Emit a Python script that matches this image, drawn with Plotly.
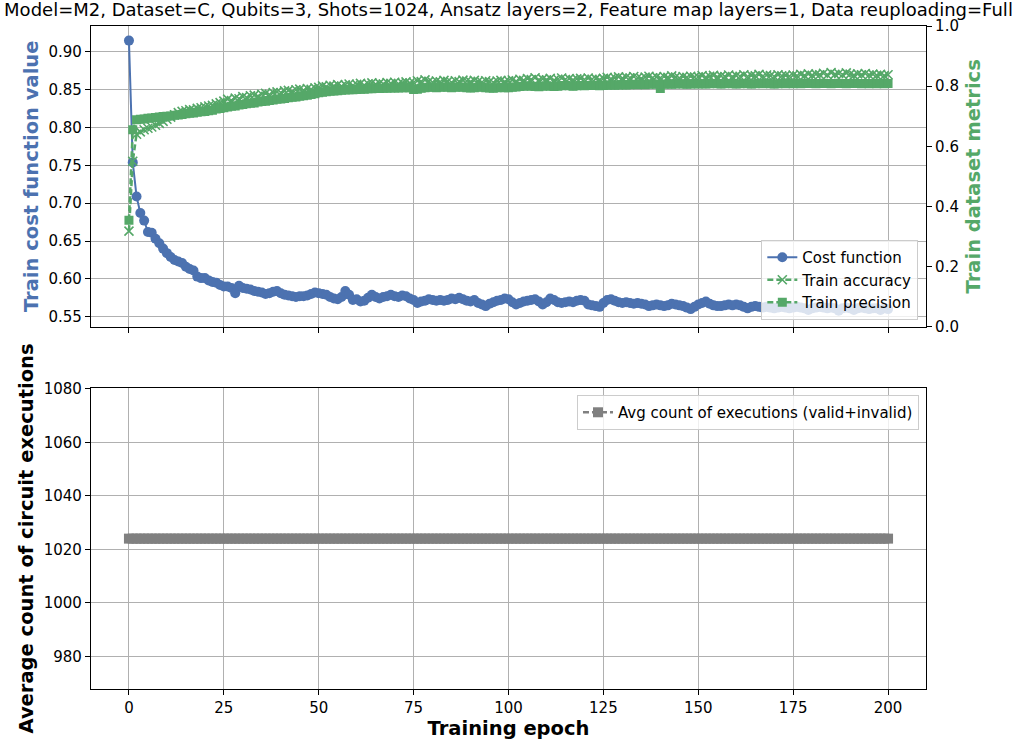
import plotly.graph_objects as go

epochs = list(range(201))

cost = [
    0.915, 0.754, 0.709, 0.687, 0.677, 0.662, 0.661, 0.653, 0.647, 0.640,
    0.634, 0.629, 0.625, 0.623, 0.621, 0.616, 0.613, 0.611, 0.603, 0.601,
    0.601, 0.598, 0.596, 0.595, 0.592,
    0.590, 0.590, 0.588, 0.581, 0.591, 0.588, 0.587, 0.586, 0.584, 0.583,
    0.582, 0.580, 0.581, 0.583, 0.584, 0.581, 0.579, 0.578, 0.577, 0.576,
    0.577, 0.577, 0.578, 0.580, 0.582,
    0.581, 0.580, 0.579, 0.576, 0.574, 0.573, 0.576, 0.584, 0.579, 0.572,
    0.573, 0.570, 0.571, 0.575, 0.579, 0.576, 0.574, 0.576, 0.577, 0.579,
    0.577, 0.576, 0.578, 0.577, 0.574,
    0.572, 0.568, 0.570, 0.571, 0.573, 0.572, 0.571, 0.572, 0.571, 0.572,
    0.574, 0.573, 0.575, 0.573, 0.571, 0.570, 0.572, 0.568, 0.566, 0.564,
    0.567, 0.569, 0.571, 0.572, 0.574,
    0.573, 0.569, 0.566, 0.568, 0.570, 0.571, 0.572, 0.573, 0.570, 0.566,
    0.569, 0.574, 0.572, 0.569, 0.568, 0.569, 0.570, 0.569, 0.571, 0.572,
    0.571, 0.566, 0.565, 0.564, 0.563,
    0.568, 0.572, 0.573, 0.571, 0.569, 0.568, 0.569, 0.568, 0.567, 0.568,
    0.567, 0.566, 0.564, 0.565, 0.566, 0.565, 0.564, 0.565, 0.567, 0.566,
    0.565, 0.564, 0.562, 0.560, 0.563,
    0.566, 0.568, 0.570, 0.567, 0.565, 0.564, 0.564, 0.565, 0.566, 0.565,
    0.566, 0.565, 0.563, 0.561, 0.563, 0.564, 0.563, 0.562, 0.563, 0.562,
    0.561, 0.562, 0.563, 0.562, 0.561,
    0.562, 0.563, 0.562, 0.561, 0.559, 0.561, 0.562, 0.563, 0.562, 0.561,
    0.562, 0.561, 0.558, 0.561, 0.562, 0.561, 0.559, 0.561, 0.562, 0.561,
    0.560, 0.561, 0.561, 0.559, 0.561, 0.560,
]

accuracy = [
    0.318, 0.550, 0.640, 0.648, 0.655, 0.660, 0.664, 0.670, 0.676, 0.683,
    0.690, 0.697, 0.705, 0.712, 0.716, 0.718, 0.722, 0.721, 0.726, 0.728,
    0.731, 0.734, 0.736, 0.741, 0.745,
    0.750, 0.757, 0.752, 0.760, 0.758, 0.765, 0.762, 0.768, 0.770, 0.766,
    0.773, 0.776, 0.772, 0.779, 0.781, 0.778, 0.784, 0.786, 0.782, 0.788,
    0.790, 0.786, 0.792, 0.789, 0.794,
    0.796, 0.801, 0.798, 0.803, 0.800, 0.805, 0.799, 0.804, 0.807, 0.802,
    0.806, 0.809, 0.803, 0.808, 0.811, 0.806, 0.810, 0.807, 0.812, 0.809,
    0.813, 0.808, 0.811, 0.814, 0.810,
    0.812, 0.818, 0.815, 0.821, 0.816, 0.813, 0.817, 0.814, 0.819, 0.816,
    0.812, 0.818, 0.815, 0.820, 0.817, 0.814, 0.819, 0.816, 0.813, 0.818,
    0.815, 0.812, 0.817, 0.819, 0.814,
    0.818, 0.821, 0.816, 0.823, 0.819, 0.825, 0.822, 0.828, 0.820, 0.824,
    0.821, 0.826, 0.819, 0.823, 0.827, 0.822, 0.825, 0.820, 0.824, 0.826,
    0.822, 0.827, 0.823, 0.825, 0.821,
    0.826, 0.829, 0.824, 0.828, 0.831, 0.826, 0.830, 0.827, 0.832, 0.828,
    0.825, 0.830, 0.833, 0.828, 0.831, 0.827, 0.832, 0.829, 0.834, 0.830,
    0.827, 0.832, 0.829, 0.833, 0.830,
    0.831, 0.835, 0.829, 0.833, 0.836, 0.830, 0.834, 0.832, 0.837, 0.831,
    0.835, 0.833, 0.838, 0.832, 0.836, 0.834, 0.839, 0.833, 0.837, 0.835,
    0.832, 0.838, 0.834, 0.836, 0.833,
    0.837, 0.834, 0.839, 0.835, 0.841, 0.836, 0.840, 0.838, 0.843, 0.837,
    0.845, 0.839, 0.842, 0.838, 0.844, 0.840, 0.836, 0.841, 0.838, 0.842,
    0.837, 0.840, 0.836, 0.839, 0.835, 0.838,
]

precision = [
    0.354, 0.655, 0.688, 0.690, 0.691, 0.693, 0.694, 0.696, 0.697, 0.699,
    0.700, 0.701, 0.703, 0.704, 0.706, 0.708, 0.710, 0.711, 0.713, 0.715,
    0.716, 0.718, 0.720, 0.724, 0.726,
    0.728, 0.731, 0.733, 0.734, 0.737, 0.739, 0.741, 0.743, 0.744, 0.747,
    0.749, 0.750, 0.752, 0.754, 0.756, 0.757, 0.759, 0.761, 0.763, 0.764,
    0.766, 0.768, 0.770, 0.772, 0.775,
    0.778, 0.780, 0.781, 0.783, 0.784, 0.785, 0.786, 0.787, 0.788, 0.788,
    0.789, 0.790, 0.790, 0.791, 0.791, 0.792, 0.792, 0.793, 0.793, 0.794,
    0.794, 0.794, 0.795, 0.795, 0.795,
    0.789, 0.790, 0.793, 0.795, 0.796, 0.796, 0.795, 0.796, 0.797, 0.796,
    0.795, 0.796, 0.797, 0.796, 0.795, 0.794, 0.795, 0.796, 0.797, 0.795,
    0.794, 0.793, 0.795, 0.796, 0.795,
    0.795, 0.796, 0.797, 0.799, 0.800, 0.801, 0.800, 0.799, 0.798, 0.800,
    0.801, 0.800, 0.799, 0.800, 0.801, 0.802, 0.801, 0.800, 0.801, 0.802,
    0.801, 0.802, 0.803, 0.802, 0.801,
    0.802, 0.803, 0.804, 0.803, 0.804, 0.805, 0.804, 0.805, 0.806, 0.805,
    0.806, 0.805, 0.806, 0.807, 0.806, 0.792, 0.806, 0.807, 0.806, 0.807,
    0.808, 0.807, 0.806, 0.807, 0.808,
    0.807, 0.808, 0.807, 0.808, 0.809, 0.808, 0.807, 0.808, 0.809, 0.808,
    0.807, 0.808, 0.809, 0.808, 0.807, 0.808, 0.809, 0.808, 0.809, 0.808,
    0.807, 0.808, 0.809, 0.808, 0.809,
    0.808, 0.809, 0.808, 0.809, 0.810, 0.809, 0.808, 0.809, 0.810, 0.809,
    0.808, 0.809, 0.810, 0.809, 0.808, 0.809, 0.810, 0.809, 0.808, 0.809,
    0.808, 0.809, 0.808, 0.809, 0.808, 0.809,
]

executions = [
    1024, 1024, 1024, 1024, 1024, 1024, 1024, 1024, 1024, 1024,
    1024, 1024, 1024, 1024, 1024, 1024, 1024, 1024, 1024, 1024,
    1024, 1024, 1024, 1024, 1024, 1024, 1024, 1024, 1024, 1024,
    1024, 1024, 1024, 1024, 1024, 1024, 1024, 1024, 1024, 1024,
    1024, 1024, 1024, 1024, 1024, 1024, 1024, 1024, 1024, 1024,
    1024, 1024, 1024, 1024, 1024, 1024, 1024, 1024, 1024, 1024,
    1024, 1024, 1024, 1024, 1024, 1024, 1024, 1024, 1024, 1024,
    1024, 1024, 1024, 1024, 1024, 1024, 1024, 1024, 1024, 1024,
    1024, 1024, 1024, 1024, 1024, 1024, 1024, 1024, 1024, 1024,
    1024, 1024, 1024, 1024, 1024, 1024, 1024, 1024, 1024, 1024,
    1024, 1024, 1024, 1024, 1024, 1024, 1024, 1024, 1024, 1024,
    1024, 1024, 1024, 1024, 1024, 1024, 1024, 1024, 1024, 1024,
    1024, 1024, 1024, 1024, 1024, 1024, 1024, 1024, 1024, 1024,
    1024, 1024, 1024, 1024, 1024, 1024, 1024, 1024, 1024, 1024,
    1024, 1024, 1024, 1024, 1024, 1024, 1024, 1024, 1024, 1024,
    1024, 1024, 1024, 1024, 1024, 1024, 1024, 1024, 1024, 1024,
    1024, 1024, 1024, 1024, 1024, 1024, 1024, 1024, 1024, 1024,
    1024, 1024, 1024, 1024, 1024, 1024, 1024, 1024, 1024, 1024,
    1024, 1024, 1024, 1024, 1024, 1024, 1024, 1024, 1024, 1024,
    1024, 1024, 1024, 1024, 1024, 1024, 1024, 1024, 1024, 1024,
    1024,
]

x_ticks = [0, 25, 50, 75, 100, 125, 150, 175, 200]
cost_ticks = [0.55, 0.60, 0.65, 0.70, 0.75, 0.80, 0.85, 0.90]
metric_ticks = [0.0, 0.2, 0.4, 0.6, 0.8, 1.0]
exec_ticks = [980, 1000, 1020, 1040, 1060, 1080]

title_text = ("Model=M2, Dataset=C, Qubits=3, Shots=1024, Ansatz layers=2, "
              "Feature map layers=1, Data reuploading=Full")

BLUE = "#4C72B0"
GREEN = "#55A868"
GREY = "#808080"
FONT = "DejaVu Sans"
GRID = "#b0b0b0"

fig = go.Figure()

fig.add_trace(go.Scatter(
    x=epochs, y=cost, name="Cost function", mode="lines+markers",
    line=dict(color=BLUE, width=2), marker=dict(symbol="circle", size=10, color=BLUE),
    xaxis="x", yaxis="y", legend="legend"))

fig.add_trace(go.Scatter(
    x=epochs, y=accuracy, name="Train accuracy", mode="lines+markers",
    line=dict(color=GREEN, width=2.5, dash="6px,3px"),
    marker=dict(symbol="x-thin", size=9, color=GREEN, line=dict(color=GREEN, width=1.6)),
    xaxis="x", yaxis="y3", legend="legend"))

fig.add_trace(go.Scatter(
    x=epochs, y=precision, name="Train precision", mode="lines+markers",
    line=dict(color=GREEN, width=2.5, dash="6px,3px"),
    marker=dict(symbol="square", size=9, color=GREEN),
    xaxis="x", yaxis="y3", legend="legend"))

fig.add_trace(go.Scatter(
    x=epochs, y=executions, name="Avg count of executions (valid+invalid)",
    mode="lines+markers",
    line=dict(color=GREY, width=2.5, dash="6px,3px"),
    marker=dict(symbol="square", size=10, color=GREY),
    xaxis="x2", yaxis="y2", legend="legend2"))

tickfont = dict(family=FONT, size=15, color="black")
axis_common = dict(showline=True, linecolor="black", linewidth=1.2, mirror=True,
                   ticks="outside", ticklen=5, tickwidth=1.2, tickcolor="black",
                   showgrid=True, gridcolor=GRID, gridwidth=1, zeroline=False,
                   tickfont=tickfont, automargin=False)

fig.update_layout(
    width=1017, height=744,
    margin=dict(l=91, r=91, t=26, b=55, autoexpand=False),
    paper_bgcolor="white", plot_bgcolor="white",
    font=dict(family=FONT, size=15, color="black"),
    title=dict(text=title_text, x=0.5, xanchor="center", y=0.987, yanchor="middle",
               xref="paper", yref="container", automargin=False,
               font=dict(family=FONT, size=18, color="black")),
    xaxis=dict(domain=[0, 1], anchor="y", range=[-10, 210], tickvals=x_ticks,
               showticklabels=False, **axis_common),
    yaxis=dict(domain=[0.5465, 1], anchor="x", range=[0.5368, 0.9343],
               tickvals=cost_ticks, tickformat=".2f",
               title=dict(text="<b>Train cost function value</b>", standoff=4,
                          font=dict(family=FONT, size=19.5, color=BLUE)),
               **axis_common),
    yaxis3=dict(overlaying="y", side="right", anchor="x", range=[0, 1],
                tickvals=metric_ticks, tickformat=".1f", automargin=False,
                showline=True, linecolor="black", linewidth=1.2,
                ticks="outside", ticklen=5, tickwidth=1.2, tickcolor="black",
                showgrid=False, zeroline=False, tickfont=tickfont,
                title=dict(text="<b>Train dataset metrics</b>", standoff=8,
                           font=dict(family=FONT, size=19.5, color=GREEN))),
    xaxis2=dict(domain=[0, 1], anchor="y2", range=[-10, 210], tickvals=x_ticks,
                title=dict(text="<b>Training epoch</b>", standoff=2,
                           font=dict(family=FONT, size=19.5, color="black")),
                **axis_common),
    yaxis2=dict(domain=[0, 0.454], anchor="x2", range=[967.8, 1080.3],
                tickvals=exec_ticks,
                title=dict(text="<b>Average count of circuit executions</b>", standoff=4,
                           font=dict(family=FONT, size=19.5, color="black")),
                **axis_common),
    legend=dict(x=0.9908, y=0.5566, xanchor="right", yanchor="bottom",
                bgcolor="rgba(255,255,255,0.8)", bordercolor="#cccccc", borderwidth=1,
                font=dict(family=FONT, size=15, color="black"),
                itemwidth=30, tracegroupgap=0),
    legend2=dict(x=0.9916, y=0.4434, xanchor="right", yanchor="top",
                 bgcolor="rgba(255,255,255,0.8)", bordercolor="#cccccc", borderwidth=1,
                 font=dict(family=FONT, size=15, color="black"), itemwidth=30),
    showlegend=True,
)

fig.write_html(
    "out.html",
    config={"displayModeBar": False},
    post_script="document.body.style.margin='0';document.body.style.overflow='hidden';",
)
